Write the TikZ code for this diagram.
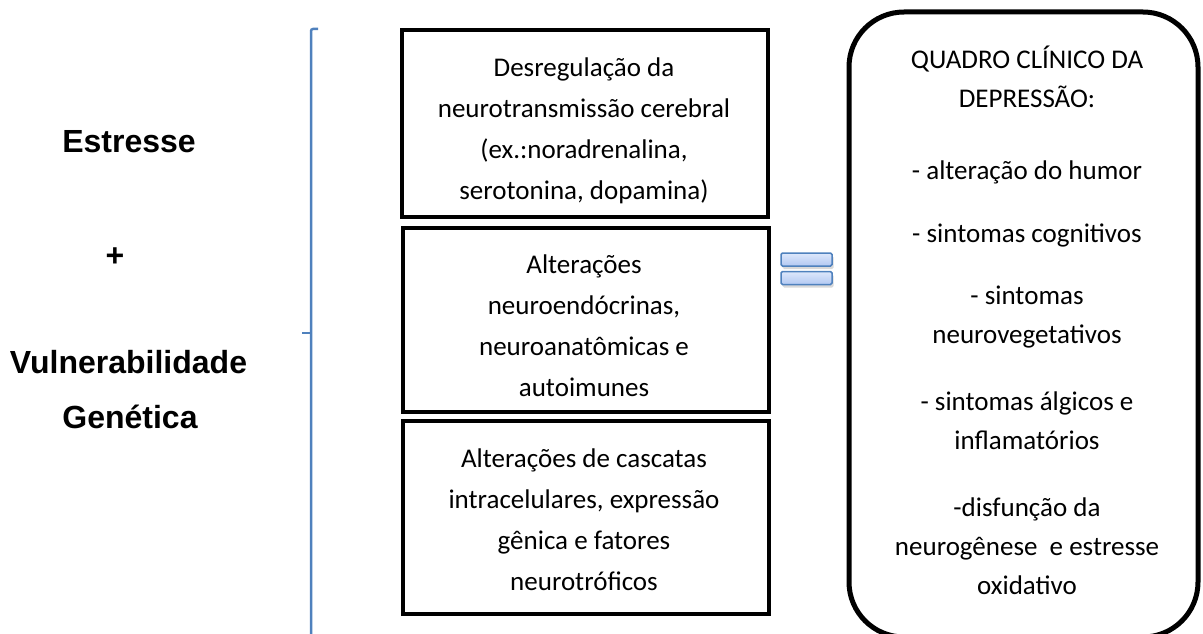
\documentclass[tikz,border=0pt]{standalone}
\usepackage{fontspec}
\setmainfont{Carlito}
\newfontfamily\arialfont{Liberation Sans}
\usetikzlibrary{shadows}
\definecolor{brblue}{RGB}{79,129,189}
\definecolor{eqtop}{RGB}{222,232,251}
\definecolor{eqbot}{RGB}{178,200,242}
\begin{document}
\begin{tikzpicture}[x=1pt,y=-1pt,
  box/.style={draw=black, line width=4.5pt, rectangle, inner sep=0pt},
  roundbox/.style={draw=black, line width=5pt, rectangle, rounded corners=55pt, inner sep=0pt},
  boxtxt/.style={anchor=base, inner sep=0pt, font=\fontsize{27}{41}\selectfont},
  sidetxt/.style={anchor=base, inner sep=0pt, font=\arialfont\bfseries\fontsize{32}{38}\selectfont},
  bracket/.style={draw=brblue, line width=2.5pt},
  eqbar/.style={draw=brblue, line width=1.5pt, rounded corners=1.5pt, top color=eqtop, bottom color=eqbot,
    minimum width=51pt, minimum height=13pt, inner sep=0pt,
    drop shadow={shadow xshift=1.5pt, shadow yshift=-3pt, opacity=0.3, fill=gray}}
]
\useasboundingbox (0,0) rectangle (1203,634);

% left texts
\node[sidetxt] (estresse) at (129,152) {Estresse};
\node[sidetxt] (plus) at (115,266) {+};
\node[sidetxt] (vuln) at (128.5,373) {Vulnerabilidade};
\node[sidetxt] (gen) at (130,428) {Genética};

% bracket
\coordinate (brtop) at (318,29);
\coordinate (brcorner) at (311,29);
\coordinate (brbot) at (311,640);
\coordinate (brmid) at (311,333);
\coordinate (brtip) at (302,333);
\draw[bracket, rounded corners=2pt] (brtop) -- (brcorner) -- (brbot);
\draw[bracket] (brmid) -- (brtip);

% boxes
\node[box, minimum width=366pt, minimum height=187pt] (b1) at (585,123.5) {};
\node[box, minimum width=366pt, minimum height=184pt] (b2) at (586,320) {};
\node[box, minimum width=366pt, minimum height=193pt] (b3) at (586,517.5) {};

\node[boxtxt] (t1) at (584,77) {\begin{tabular}[t]{@{}c@{}}Desregulação da\\ neurotransmissão cerebral\\ (ex.:noradrenalina,\\ serotonina, dopamina)\end{tabular}};
\node[boxtxt] (t2) at (584,273) {\begin{tabular}[t]{@{}c@{}}Alterações\\ neuroendócrinas,\\ neuroanatômicas e\\ autoimunes\end{tabular}};
\node[boxtxt] (t3) at (584,467) {\begin{tabular}[t]{@{}c@{}}Alterações de cascatas\\ intracelulares, expressão\\ gênica e fatores\\ neurotróficos\end{tabular}};

% equals sign
\node[eqbar] (eq1) at (806.5,259.5) {};
\node[eqbar] (eq2) at (806.5,278) {};

% right rounded box
\node[roundbox, minimum width=349pt, minimum height=625pt] (rb) at (1023.5,324.5) {};
\node[boxtxt, font=\fontsize{27}{39}\selectfont] (rt) at (1027,69) {\begin{tabular}[t]{@{}c@{}}QUADRO CLÍNICO DA\\ DEPRESSÃO:\\[33pt] - alteração do humor\\[24pt] - sintomas cognitivos\\[23pt] - sintomas\\ neurovegetativos\\[28pt] - sintomas álgicos e\\ inflamatórios\\[28pt] -disfunção da\\ neurogênese\ \ e estresse\\ oxidativo\end{tabular}};
\end{tikzpicture}
\end{document}
